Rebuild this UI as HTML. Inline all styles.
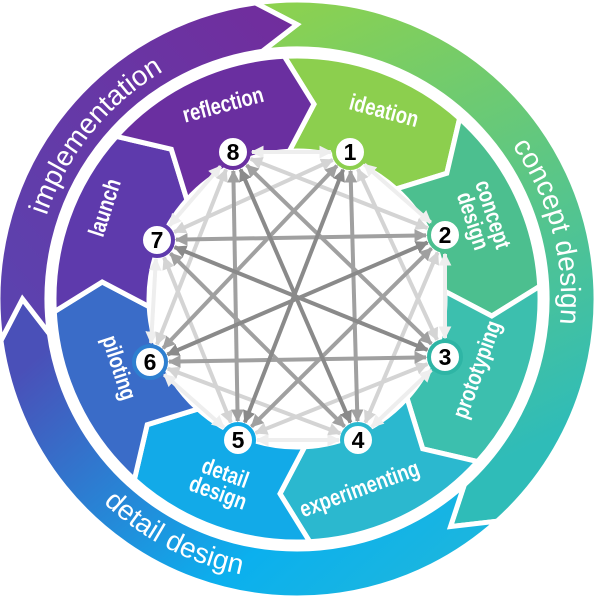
<!DOCTYPE html>
<html><head><meta charset="utf-8"><style>
html,body{margin:0;padding:0;background:#fff;width:600px;height:601px;overflow:hidden}
svg{display:block}
text{font-family:"Liberation Sans Narrow","Liberation Sans",sans-serif;fill:#fff;font-weight:bold}
</style></head><body>
<svg id="s" width="600" height="601" viewBox="0 0 600 601" xmlns="http://www.w3.org/2000/svg">
<defs>
<linearGradient id="gG" x1="0" y1="0" x2="0.3" y2="1"><stop offset="0" stop-color="#8fd24c"/><stop offset="1" stop-color="#2fbcb8"/></linearGradient>
<linearGradient id="gB" x1="1" y1="1" x2="0" y2="0.3"><stop offset="0" stop-color="#22b8d8"/><stop offset="0.4" stop-color="#0bb0ee"/><stop offset="1" stop-color="#4a50b8"/></linearGradient>
<linearGradient id="gP" x1="0" y1="1" x2="1" y2="0"><stop offset="0" stop-color="#5a44b0"/><stop offset="1" stop-color="#722c9c"/></linearGradient>
<marker id="m1" viewBox="0 0 10 10" refX="9" refY="5" markerWidth="3.2" markerHeight="3.2" orient="auto-start-reverse"><path d="M0,0L10,5L0,10z" fill="#eeeeee"/></marker>
<marker id="m2" viewBox="0 0 10 10" refX="9" refY="5" markerWidth="3.2" markerHeight="3.2" orient="auto-start-reverse"><path d="M0,0L10,5L0,10z" fill="#d4d4d4"/></marker>
<marker id="m3" viewBox="0 0 10 10" refX="9" refY="5" markerWidth="3.2" markerHeight="3.2" orient="auto-start-reverse"><path d="M0,0L10,5L0,10z" fill="#a0a0a0"/></marker>
<marker id="m4" viewBox="0 0 10 10" refX="9" refY="5" markerWidth="3.2" markerHeight="3.2" orient="auto-start-reverse"><path d="M0,0L10,5L0,10z" fill="#8a8a8a"/></marker>
<path id="tpI" d=""/><path id="tpC" d=""/><path id="tpD" d=""/>
</defs>
<g id="rings"></g>
<g id="lines"></g>
<g id="nodes"></g>
<g id="labels">
<text font-size="23" transform="translate(382,118) rotate(15) scale(0.8,1)" text-anchor="middle">ideation</text>
<text font-size="23" transform="translate(225,112) rotate(-15) scale(0.8,1)" text-anchor="middle">reflection</text>
<text font-size="23" transform="translate(482,218) rotate(72) scale(0.8,1)" text-anchor="middle"><tspan x="0" y="-4">concept</tspan><tspan x="0" y="17">design</tspan></text>
<text font-size="23" transform="translate(484,372) rotate(-70) scale(0.8,1)" text-anchor="middle">prototyping</text>
<text font-size="23" transform="translate(362,496) rotate(-20) scale(0.8,1)" text-anchor="middle">experimenting</text>
<text font-size="23" transform="translate(222,482) rotate(20) scale(0.8,1)" text-anchor="middle"><tspan x="0" y="-2">detail</tspan><tspan x="0" y="19">design</tspan></text>
<text font-size="23" transform="translate(112,370) rotate(72) scale(0.8,1)" text-anchor="middle">piloting</text>
<text font-size="23" transform="translate(112,210) rotate(-72) scale(0.8,1)" text-anchor="middle">launch</text>
<text font-size="28" style="font-weight:normal"><textPath href="#tpI" startOffset="50%" text-anchor="middle">implementation</textPath></text>
<text font-size="28" style="font-weight:normal"><textPath href="#tpC" startOffset="50%" text-anchor="middle">concept design</textPath></text>
<text font-size="28" style="font-weight:normal"><textPath href="#tpD" startOffset="50%" text-anchor="middle">detail design</textPath></text>
</g>
</svg>
<script>
var cx=297,cy=299,NS="http://www.w3.org/2000/svg";
function P(r,a){var t=a*Math.PI/180;return [cx+r*Math.sin(t),cy-r*Math.cos(t)];}
function f(p){return p[0].toFixed(1)+","+p[1].toFixed(1);}
function seg(a1,a2,ri,ro,d,fill){
 var rm=(ri+ro)/2,lg=(a2-a1)>180?1:0;
 var s="M"+f(P(ro,a1))+"A"+ro+","+ro+" 0 "+lg+" 1 "+f(P(ro,a2))+"L"+f(P(rm,a2+d))+"L"+f(P(ri,a2))+"A"+ri+","+ri+" 0 "+lg+" 0 "+f(P(ri,a1))+"L"+f(P(rm,a1+d))+"Z";
 var e=document.createElementNS(NS,"path");e.setAttribute("d",s);e.setAttribute("fill",fill);e.setAttribute("stroke","#fff");e.setAttribute("stroke-width","5");e.setAttribute("stroke-linejoin","miter");
 document.getElementById("rings").appendChild(e);}
seg(-8,138,250,299,8,"url(#gG)");
seg(138,262,250,299,8,"url(#gB)");
seg(262,352,250,299,8,"url(#gP)");
var cols=["#8ccf4e","#4cbf8f","#3cbfae","#2bb8cf","#12aae8","#3a6cc8","#5e3aac","#6a2fa0"];
for(var i=0;i<8;i++){seg(-3+45*i,-3+45*(i+1),148,243,8,cols[i]);}
function arc(r,a1,a2,sw){var p1=P(r,a1),p2=P(r,a2);return "M"+f(p1)+"A"+r+","+r+" 0 0 "+sw+" "+f(p2);}
document.getElementById("tpI").setAttribute("d",arc(264,268,350,1));
document.getElementById("tpC").setAttribute("d",arc(264,20,130,1));
document.getElementById("tpD").setAttribute("d",arc(281,250,165,0));
var N=[[350,152],[445,235],[445,357],[358,440],[238,440],[150,362],[157,240],[233,152]];
var nc=["#8ccf4e","#4cbf8f","#2eb5a5","#2bb8cf","#12aae8","#2e7fd0","#5e3aac","#6a2fa0"];
var L=document.getElementById("lines");
var gc={1:"#eeeeee",2:"#d4d4d4",3:"#a0a0a0",4:"#8a8a8a"};
[1,2,3,4].forEach(function(k){
 for(var i=0;i<8;i++){var j=(i+k)%8;if(k==4&&i>=4)continue;
  var a=N[i],b=N[j],dx=b[0]-a[0],dy=b[1]-a[1],l=Math.hypot(dx,dy),u=[dx/l,dy/l],o=19;
  var e=document.createElementNS(NS,"line");
  e.setAttribute("x1",a[0]+u[0]*o);e.setAttribute("y1",a[1]+u[1]*o);e.setAttribute("x2",b[0]-u[0]*o);e.setAttribute("y2",b[1]-u[1]*o);
  e.setAttribute("stroke",gc[k]);e.setAttribute("stroke-width","4");
  e.setAttribute("marker-end","url(#m"+k+")");e.setAttribute("marker-start","url(#m"+k+")");L.appendChild(e);}
});
var G=document.getElementById("nodes");
N.forEach(function(p,i){
 var c=document.createElementNS(NS,"circle");c.setAttribute("cx",p[0]);c.setAttribute("cy",p[1]);c.setAttribute("r",16);c.setAttribute("fill","#fff");c.setAttribute("stroke",nc[i]);c.setAttribute("stroke-width","4");G.appendChild(c);
 var t=document.createElementNS(NS,"text");t.setAttribute("x",p[0]);t.setAttribute("y",p[1]+8);t.setAttribute("text-anchor","middle");t.setAttribute("font-size","23");t.setAttribute("style","fill:#000");t.textContent=(i+1);G.appendChild(t);
});
</script>
</body></html>
